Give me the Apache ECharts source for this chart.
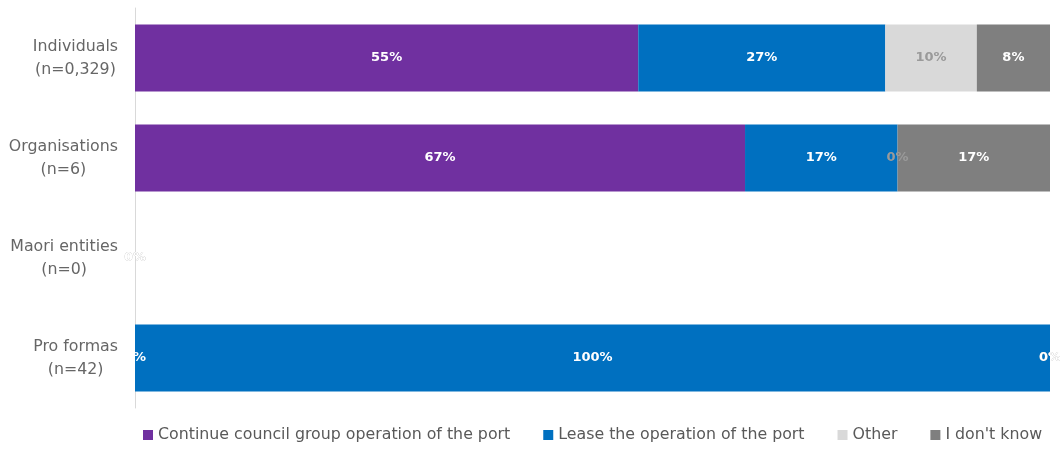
<!DOCTYPE html>
<html>
<head>
<meta charset="utf-8">
<script src="https://cdn.jsdelivr.net/npm/echarts@6/dist/echarts.min.js"></script>
<style>
  html, body { margin: 0; padding: 0; background: #fff; }
  #chart { width: 1060px; height: 464px; }
</style>
</head>
<body>
<div id="chart"></div>
<script>
const categories = [
  'Individuals\n(n=0,329)',
  'Organisations\n(n=6)',
  'Maori entities\n(n=0)',
  'Pro formas\n(n=42)',
]

const seriesNames = [
  'Continue council group operation of the port',
  'Lease the operation of the port',
  'Other',
  "I don't know",
]

// percentages, one value per category
const continueCouncil = [55, 66.67, 0, 0]
const leaseOperation = [27, 16.67, 0, 100]
const other = [10, 0, 0, 0]
const dontKnow = [8, 16.67, 0, 0]

const colors = ['#7030a0', '#0070c0', '#d9d9d9', '#7f7f7f']
const labelColors = ['#ffffff', '#ffffff', '#9a9a9a', '#ffffff']

const chart = echarts.init(document.getElementById('chart'))

function makeSeries(name, data, i) {
  return {
    name: name,
    type: 'bar',
    stack: 'total',
    data: data,
    barWidth: 67,
    itemStyle: { color: colors[i] },
    label: {
      show: true,
      position: 'inside',
      formatter: (p) => Math.round(p.value) + '%',
      color: labelColors[i],
      fontFamily: 'DejaVu Sans',
      fontWeight: 'bold',
      fontSize: 13,
    },
  }
}

chart.setOption({
  animation: false,
  color: colors,
  grid: {
    left: 135,
    right: 10,
    top: 8,
    bottom: 56,
  },
  legend: {
    left: 138,
    top: 422,
    itemWidth: 10,
    itemHeight: 10,
    itemGap: 33,
    icon: 'rect',
    textStyle: {
      color: '#595959',
      fontFamily: 'DejaVu Sans',
      fontSize: 15.8,
    },
    data: seriesNames,
  },
  xAxis: {
    type: 'value',
    min: 0,
    max: 100,
    show: false,
  },
  yAxis: {
    type: 'category',
    data: categories,
    inverse: true,
    axisLine: { show: true, lineStyle: { color: '#d9d9d9' } },
    axisTick: { show: false },
    axisLabel: {
      margin: 17,
      align: 'right',
      lineHeight: 23,
      formatter: (v) => v.split('\n').map((s) => '{c|' + s + '}').join('\n'),
      rich: {
        c: {
          align: 'center',
          color: '#666666',
          fontFamily: 'DejaVu Sans',
          fontSize: 15.8,
          lineHeight: 23,
        },
      },
    },
  },
  series: [
    makeSeries(seriesNames[0], continueCouncil, 0),
    makeSeries(seriesNames[1], leaseOperation, 1),
    makeSeries(seriesNames[2], other, 2),
    makeSeries(seriesNames[3], dontKnow, 3),
  ],
})
</script>
</body>
</html>
